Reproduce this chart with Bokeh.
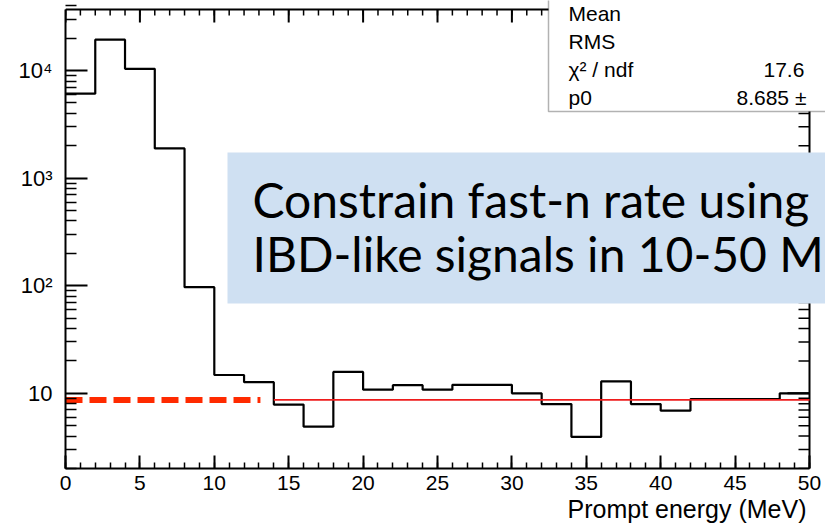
import math
from bokeh.plotting import figure
from bokeh.models import FixedTicker, BoxAnnotation, Label, Title, ColumnDataSource
from bokeh.embed import file_html
from bokeh.resources import INLINE

# ---------------- data ----------------
bin_left_edges = [0, 2, 4, 6, 8, 10, 12, 14, 16, 18, 20, 22, 24,
                  26, 28, 30, 32, 34, 36, 38, 40, 42, 44, 46, 48]
bin_width = 2
counts = [6100, 19400, 10400, 1890, 97, 14.8, 12.7, 7.85, 4.9, 15.8, 10.8, 11.9, 10.8,
          12.0, 12.0, 10.0, 7.95, 3.93, 12.9, 7.95, 6.9, 8.85, 8.85, 8.85, 10.0]

fit_p0 = 8.685
fit_x = [14, 50]
extrap_x = [0, 13.1]

x_major = [0, 5, 10, 15, 20, 25, 30, 35, 40, 45, 50]
x_minor = list(range(0, 51))
y_major = [10, 100, 1000, 10000]
y_minor = [m * d for d in [1, 10, 100, 1000, 10000] for m in [2, 3, 4, 5, 6, 7, 8, 9]]
y_labels = {10: "10", 100: "10²", 1000: "10³", 10000: "10⁴"}

stats_names = ["Mean", "RMS", "χ² / ndf", "p0"]
stats_values = ["", "", "17.6", "8.685 ±"]

x_title = "Prompt energy (MeV)"
note_lines = ["Constrain fast-n rate using", "IBD-like signals in 10-50 M"]

# ---------------- geometry ----------------
W, H = 825, 527
X0, X1 = 0, 50
Y0, Y1 = 2, 3.7e4
FL, FR, FT, FB = 65, 809, 9, 468  # histogram frame edges in page pixels
L0, L1 = math.log10(Y0), math.log10(Y1)
PX_X = (FR - FL) / (X1 - X0)        # pixels per MeV
PX_DEC = (FB - FT) / (L1 - L0)      # pixels per decade


def xd(px):
    return X0 + (px - FL) / PX_X


def yd(py):
    return 10 ** (L0 + (FB - py) / PX_DEC)


p = figure(width=W, height=H, x_range=(X0, xd(W)), y_range=(Y0, yd(0)),
           y_axis_type="log", output_backend="svg", toolbar_location=None,
           min_border_left=FL, min_border_right=0, min_border_top=0,
           min_border_bottom=H - FB)
p.grid.visible = False
p.outline_line_color = None
p.background_fill_color = "white"
p.border_fill_color = "white"

FONT = "Liberation Sans"

xa = p.xaxis[0]
xa.ticker = FixedTicker(ticks=x_major, minor_ticks=x_minor)
xa.bounds = (X0, X1)
ya = p.yaxis[0]
ya.ticker = FixedTicker(ticks=y_major, minor_ticks=y_minor)
ya.bounds = (Y0, Y1)
ya.major_label_overrides = y_labels

for ax, mj, mn, fs in [(xa, 13, 6, "21px"), (ya, 22, 11, "22px")]:
    ax.axis_line_width = 2
    ax.major_tick_line_width = 2
    ax.minor_tick_line_width = 1.5
    ax.major_tick_in = mj
    ax.major_tick_out = 0
    ax.minor_tick_in = mn
    ax.minor_tick_out = 0
    ax.major_label_text_font = FONT
    ax.major_label_text_font_size = fs
    ax.major_label_text_color = "black"
xa.major_label_standoff = 7
ya.major_label_standoff = 13

# x axis title, right aligned below the axis
p.add_layout(Title(text=x_title, align="right", offset=W - 806, text_font=FONT,
                   text_font_size="25px", text_font_style="normal", text_color="black",
                   standoff=0), "below")

# top and right frame of the histogram, with inward ticks
p.line([X0, X1], [Y1, Y1], line_color="black", line_width=2)
p.line([X1, X1], [Y0, Y1], line_color="black", line_width=2)

top_major = ColumnDataSource(dict(x=x_major, y0=[Y1] * len(x_major),
                                  y1=[Y1 / 10 ** (13 / PX_DEC)] * len(x_major)))
top_minor = ColumnDataSource(dict(x=x_minor, y0=[Y1] * len(x_minor),
                                  y1=[Y1 / 10 ** (6 / PX_DEC)] * len(x_minor)))
p.segment(x0="x", y0="y0", x1="x", y1="y1", source=top_major, line_color="black", line_width=2)
p.segment(x0="x", y0="y0", x1="x", y1="y1", source=top_minor, line_color="black", line_width=1.5)

r_major = [v for v in y_major if Y0 <= v <= Y1]
r_minor = [v for v in y_minor if Y0 <= v <= Y1]
right_major = ColumnDataSource(dict(y=r_major, x0=[X1] * len(r_major),
                                    x1=[X1 - 22 / PX_X] * len(r_major)))
right_minor = ColumnDataSource(dict(y=r_minor, x0=[X1] * len(r_minor),
                                    x1=[X1 - 11 / PX_X] * len(r_minor)))
p.segment(x0="x0", y0="y", x1="x1", y1="y", source=right_major, line_color="black", line_width=2)
p.segment(x0="x0", y0="y", x1="x1", y1="y", source=right_minor, line_color="black", line_width=1.5)

# histogram
x_step = bin_left_edges + [bin_left_edges[-1] + bin_width]
y_step = counts + [counts[-1]]
p.step(x_step, y_step, mode="after", line_color="black", line_width=2.2)

# fit line and extrapolation
p.line(fit_x, [fit_p0, fit_p0], line_color="#ee1c1c", line_width=1.6)
p.line(extrap_x, [fit_p0, fit_p0], line_color="#ff2a00", line_width=6, line_dash="17 7")

# stats box
stats = BoxAnnotation(left=xd(548), right=xd(W + 40), bottom=yd(111), top=yd(-40),
                      fill_color="white", fill_alpha=1, line_color="black", line_width=1.5,
                      level="overlay")
p.add_layout(stats)
row_centers = [13, 41, 69, 97]
value_left = [0, 0, 763, 736]
for name, val, c, vx in zip(stats_names, stats_values, row_centers, value_left):
    p.add_layout(Label(x=xd(568), y=yd(c), text=name, text_font=FONT, text_font_size="21px",
                       text_color="black", text_baseline="middle", level="overlay"))
    if val:
        p.add_layout(Label(x=xd(vx), y=yd(c), text=val, text_font=FONT,
                           text_font_size="21px", text_color="black",
                           text_baseline="middle", level="overlay"))

# blue note box
note = BoxAnnotation(left=xd(227), right=xd(W + 40), bottom=yd(303), top=yd(152),
                     fill_color="#cfe0f2", fill_alpha=1, line_color=None, level="overlay")
p.add_layout(note)
for line, c in zip(note_lines, [199, 253]):
    p.add_layout(Label(x=xd(252), y=yd(c), text=line, text_font="Lato", text_font_size="48px",
                       text_color="black", text_baseline="middle", level="overlay"))

open("out.html", "w").write(file_html(p, INLINE))
